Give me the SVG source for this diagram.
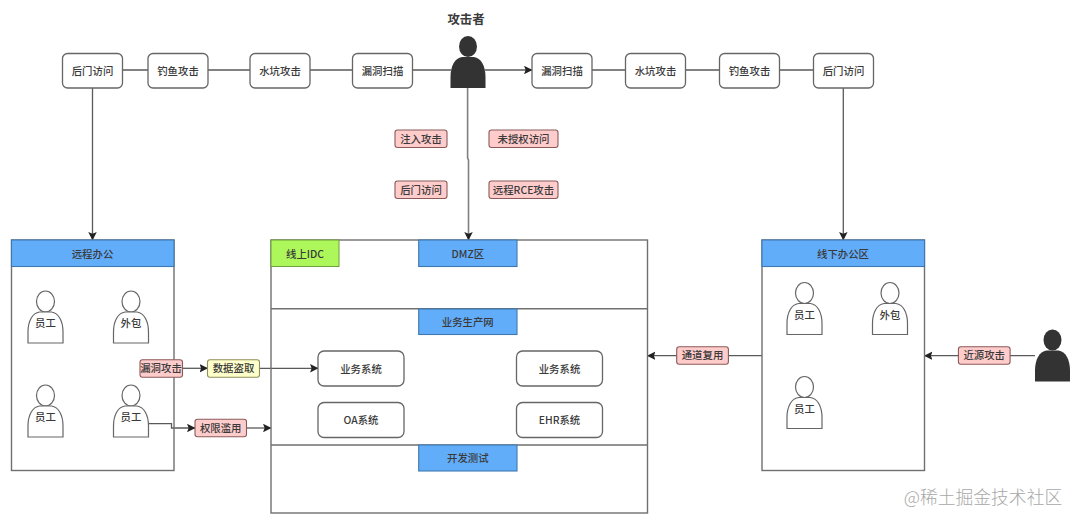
<svg xmlns="http://www.w3.org/2000/svg" width="1080" height="522" viewBox="0 0 1080 522">
<style>
text{font-family:"Noto Sans CJK SC","Liberation Sans",sans-serif;font-size:10.4px;font-weight:500;fill:#3a3a3a;text-anchor:middle;dominant-baseline:central}
.box{fill:#fff;stroke:#666;stroke-width:1.3}
.tag{stroke:#8a5a5a;stroke-width:1.1;fill:#ffcccc}
.hdr{fill:#62adfa;stroke:#3f78b0;stroke-width:1.1}
.frame{fill:none;stroke:#707070;stroke-width:1.4}
.c{fill:none;stroke:#5a5a5a;stroke-width:1.3}
.ca{fill:none;stroke:#5a5a5a;stroke-width:1.3;marker-end:url(#a)}
.p{fill:#fff;stroke:#666;stroke-width:1.2}
.d{fill:#333}
</style>
<defs>
<marker id="a" viewBox="0 0 8 8" refX="7.5" refY="4" markerWidth="8.500" markerHeight="8.500" markerUnits="userSpaceOnUse" orient="auto"><path d="M0 0L8 4L0 8L1.500 4Z" fill="#222"/></marker>
<g id="person"><ellipse cx="0" cy="10.500" rx="9" ry="10.500"/><path d="M-17.500 52V41C-17.500 30-13 22-6 21H6C13 22 17.500 30 17.500 41V52Z"/></g>
</defs>
<rect width="1080" height="522" fill="#fff"/>
<g id="connectors">
<path class="c" d="M122.500 70H148M208 70H250M310 70H352M412 70H451"/>
<path class="ca" d="M485 70H532"/>
<path class="c" d="M592 70H625M686 70H719M779 70H813"/>
<path class="ca" d="M92.500 88V240"/>
<path class="ca" d="M843.300 88V240"/>
<path class="ca" style="stroke:#808080;stroke-width:1.600" d="M467.600 88V158L468.500 160V240"/>
<path class="ca" d="M182.500 368.300H207.500"/>
<path class="ca" d="M259.500 368.300H318"/>
<path class="ca" d="M148.500 423.700H171.500V428H195"/>
<path class="ca" d="M246.500 428H271"/>
<path class="ca" d="M762 355.700H647.500"/>
<path class="ca" d="M1035 355.700H924.500"/>
</g>
<g id="attacker"><text x="466" y="18.500" style="font-size:12.400px;font-weight:700">攻击者</text><use href="#person" x="468" y="36" class="d"/></g>
<g id="attacker2"><use href="#person" x="1052.500" y="329.500" class="d"/></g>
<g id="l1"><rect class="box" x="62.500" y="53.500" width="60" height="34.500" rx="5"/><text x="92.500" y="70">后门访问</text></g>
<g id="l2"><rect class="box" x="148" y="53.500" width="60" height="34.500" rx="5"/><text x="178" y="70">钓鱼攻击</text></g>
<g id="l3"><rect class="box" x="250" y="53.500" width="60" height="34.500" rx="5"/><text x="280" y="70">水坑攻击</text></g>
<g id="l4"><rect class="box" x="352.500" y="53.500" width="60" height="34.500" rx="5"/><text x="382.500" y="70">漏洞扫描</text></g>
<g id="r1"><rect class="box" x="532" y="53.500" width="60" height="34.500" rx="5"/><text x="562" y="70">漏洞扫描</text></g>
<g id="r2"><rect class="box" x="625.500" y="53.500" width="60" height="34.500" rx="5"/><text x="655.500" y="70">水坑攻击</text></g>
<g id="r3"><rect class="box" x="719.500" y="53.500" width="60" height="34.500" rx="5"/><text x="749.500" y="70">钓鱼攻击</text></g>
<g id="r4"><rect class="box" x="813.500" y="53.500" width="60" height="34.500" rx="5"/><text x="843.500" y="70">后门访问</text></g>
<g id="t1"><rect class="tag" x="395" y="130" width="52" height="17.500" rx="2.500"/><text x="421" y="138">注入攻击</text></g>
<g id="t2"><rect class="tag" x="489" y="130" width="69" height="17.500" rx="2.500"/><text x="523.500" y="138">未授权访问</text></g>
<g id="t3"><rect class="tag" x="395" y="181" width="52" height="17.500" rx="2.500"/><text x="421" y="189">后门访问</text></g>
<g id="t4"><rect class="tag" x="489" y="181" width="69" height="17.500" rx="2.500"/><text x="523.500" y="189">远程RCE攻击</text></g>
<g id="remote">
<rect class="frame" x="11.500" y="240" width="162.500" height="230.500"/>
<rect class="hdr" x="11.500" y="240" width="162.500" height="26.500"/><text x="92.500" y="253">远程办公</text>
</g>
<g id="r-p1"><use href="#person" x="45.500" y="291" class="p"/><text x="45.500" y="322">员工</text></g>
<g id="r-p2"><use href="#person" x="131" y="291" class="p"/><text x="131" y="322">外包</text></g>
<g id="r-p3"><use href="#person" x="45.500" y="385" class="p"/><text x="45.500" y="416">员工</text></g>
<g id="r-p4"><use href="#person" x="131" y="385" class="p"/><text x="131" y="416">员工</text></g>
<g id="idc">
<rect class="frame" x="271" y="240" width="376.500" height="273"/>
<path class="frame" d="M271 308.700H647.500M271 445H647.500"/>
<rect x="271" y="240" width="68" height="26.500" fill="#aef75a" stroke="#6f9e3a"/><text x="305" y="253">线上IDC</text>
</g>
<g id="dmz"><rect class="hdr" x="418.700" y="240" width="98.300" height="26.500"/><text x="467.800" y="253">DMZ区</text></g>
<g id="prod"><rect class="hdr" x="418.700" y="309" width="98.300" height="25.500"/><text x="467.800" y="321">业务生产网</text></g>
<g id="dev"><rect class="hdr" x="418.700" y="445" width="98.300" height="26"/><text x="467.800" y="457">开发测试</text></g>
<g id="s1"><rect class="box" x="318" y="351" width="86" height="35" rx="6"/><text x="361" y="368">业务系统</text></g>
<g id="s2"><rect class="box" x="516.500" y="351" width="86" height="35" rx="6"/><text x="559.500" y="368">业务系统</text></g>
<g id="s3"><rect class="box" x="318" y="402.500" width="86" height="35" rx="6"/><text x="361" y="419">OA系统</text></g>
<g id="s4"><rect class="box" x="516.500" y="402.500" width="86" height="35" rx="6"/><text x="559.500" y="419">EHR系统</text></g>
<g id="office">
<rect class="frame" x="762" y="240" width="162.500" height="230.500"/>
<rect class="hdr" x="762" y="240" width="162.500" height="26.500"/><text x="843" y="253">线下办公区</text>
</g>
<g id="o-p1"><use href="#person" x="804.500" y="282.500" class="p"/><text x="804.500" y="314">员工</text></g>
<g id="o-p2"><use href="#person" x="890" y="282.500" class="p"/><text x="890" y="314">外包</text></g>
<g id="o-p3"><use href="#person" x="804.500" y="376.500" class="p"/><text x="804.500" y="408">员工</text></g>
<g id="t5"><rect class="tag" x="140" y="359.700" width="42.500" height="17.500" rx="2.500"/><text x="161" y="367.700">漏洞攻击</text></g>
<g id="t6"><rect class="tag" style="fill:#ffffcc;stroke:#8f8f5a" x="207.500" y="359.700" width="52" height="17.500" rx="2.500"/><text x="233.500" y="367.700">数据盗取</text></g>
<g id="t7"><rect class="tag" x="195" y="419.300" width="51.500" height="17.500" rx="2.500"/><text x="220.700" y="427.300">权限滥用</text></g>
<g id="t8"><rect class="tag" x="676.700" y="346.800" width="51.700" height="17.500" rx="2.500"/><text x="702.500" y="354.800">通道复用</text></g>
<g id="t9"><rect class="tag" x="958.400" y="346.800" width="51.700" height="17.500" rx="2.500"/><text x="984.200" y="354.800">近源攻击</text></g>
<text id="mark" x="983" y="495.500" style="font-size:17.800px;fill:#a8a8a8;font-weight:300">@稀土掘金技术社区</text>
</svg>
